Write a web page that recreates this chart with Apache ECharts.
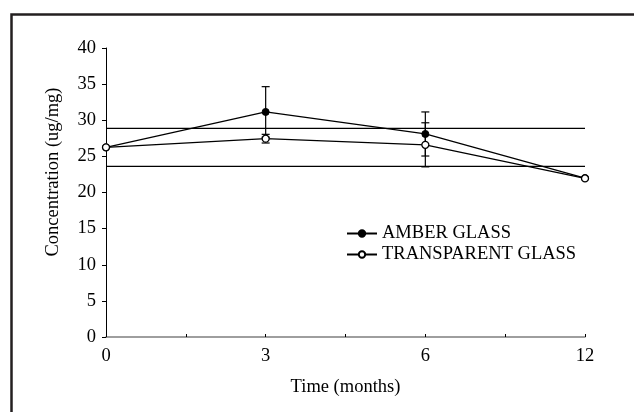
<!DOCTYPE html>
<html>
<head>
<meta charset="utf-8">
<script src="https://cdn.jsdelivr.net/npm/echarts@6/dist/echarts.min.js"></script>
<style>
html,body{margin:0;padding:0;background:#fff;}
#chart{width:634px;height:412px;}
</style>
</head>
<body>
<div id="chart"></div>
<script>
// ---- data ----
const timeLabels = ['0', '3', '6', '12'];           // x tick labels (months)
const amberValues = [26.25, 31.15, 28.1, 22.0];       // AMBER GLASS
const amberErrors = [0, 3.5, 3.05, 0];
const transparentValues = [26.25, 27.45, 26.6, 21.95]; // TRANSPARENT GLASS
const transparentErrors = [0, 0.6, 3.05, 0];
const upperLimit = 28.875;
const lowerLimit = 23.625;
const yTicks = [0, 5, 10, 15, 20, 25, 30, 35, 40];

const FONT = 'Liberation Serif';
const FS = 18.5;

const toPts = vals => vals.map((v, i) => [i, v]);
const toErr = (vals, errs) => vals.map((v, i) => [i, v, errs[i]]);
const limitLine = v => [[0, v], [timeLabels.length - 1, v]];

function errorBar(params, api) {
  const x = api.value(0), y = api.value(1), e = api.value(2);
  if (!e) return null;
  const top = api.coord([x, y + e]);
  const bot = api.coord([x, y - e]);
  const hw = 4;
  const st = { stroke: '#000', lineWidth: 1.2 };
  return {
    type: 'group',
    children: [
      { type: 'line', shape: { x1: top[0], y1: top[1], x2: bot[0], y2: bot[1] }, style: st },
      { type: 'line', shape: { x1: top[0] - hw, y1: top[1], x2: top[0] + hw, y2: top[1] }, style: st },
      { type: 'line', shape: { x1: bot[0] - hw, y1: bot[1], x2: bot[0] + hw, y2: bot[1] }, style: st }
    ]
  };
}

const chart = echarts.init(document.getElementById('chart'), null, { renderer: 'canvas' });
chart.setOption({
  animation: false,
  backgroundColor: '#fff',
  textStyle: { fontFamily: FONT, color: '#000' },
  graphic: [{
    type: 'rect',
    left: 9, top: 12,
    shape: { x: 0, y: 0, width: 700, height: 500 },
    style: { fill: 'none', stroke: '#231f20', lineWidth: 2.5 },
    silent: true
  }, {
    type: 'text',
    x: 53, y: 172, rotation: Math.PI / 2,
    style: {
      text: 'Concentration (ug/mg)', fontFamily: FONT, fontSize: FS, fill: '#000',
      align: 'center', verticalAlign: 'middle'
    },
    silent: true
  }],
  grid: { left: 106, right: 49, top: 48, bottom: 75, containLabel: false },
  xAxis: {
    type: 'value',
    min: 0, max: timeLabels.length - 1, interval: 0.5,
    name: 'Time (months)', nameLocation: 'middle', nameGap: 41,
    nameTextStyle: { fontFamily: FONT, fontSize: FS, color: '#000' },
    axisLine: { show: true, lineStyle: { color: '#7f7f7f', width: 1.5 } },
    axisTick: { show: true, inside: true, length: 3, lineStyle: { color: '#000' } },
    axisLabel: {
      fontFamily: FONT, fontSize: FS, color: '#000', margin: 10,
      formatter: v => Number.isInteger(v) ? timeLabels[v] : ''
    },
    splitLine: { show: false }
  },
  yAxis: {
    type: 'value',
    min: yTicks[0], max: yTicks[yTicks.length - 1], interval: yTicks[1] - yTicks[0],
    axisLine: { show: true, lineStyle: { color: '#000', width: 1 } },
    axisTick: { show: true, length: 4, lineStyle: { color: '#000' } },
    axisLabel: { fontFamily: FONT, fontSize: FS, color: '#000', margin: 10 },
    splitLine: { show: false }
  },
  legend: {
    orient: 'vertical', left: 346, top: 224, itemGap: 2, padding: 0,
    itemWidth: 30, itemHeight: 8,
    textStyle: { fontFamily: FONT, fontSize: FS, color: '#000' },
    data: ['AMBER GLASS', 'TRANSPARENT GLASS']
  },
  series: [
    { name: 'upper', type: 'line', data: limitLine(upperLimit), symbol: 'none',
      lineStyle: { color: '#000', width: 1.3 }, z: 1, silent: true },
    { name: 'lower', type: 'line', data: limitLine(lowerLimit), symbol: 'none',
      lineStyle: { color: '#000', width: 1.3 }, z: 1, silent: true },
    { name: 'amberErr', type: 'custom', renderItem: errorBar,
      data: toErr(amberValues, amberErrors), z: 2 },
    { name: 'transErr', type: 'custom', renderItem: errorBar,
      data: toErr(transparentValues, transparentErrors), z: 2 },
    { name: 'AMBER GLASS', type: 'line', data: toPts(amberValues),
      symbol: 'circle', symbolSize: 7,
      lineStyle: { color: '#000', width: 1.3 },
      itemStyle: { color: '#000', borderColor: '#000', borderWidth: 1 }, z: 3 },
    { name: 'TRANSPARENT GLASS', type: 'line', data: toPts(transparentValues),
      symbol: 'circle', symbolSize: 7,
      lineStyle: { color: '#000', width: 1.3 },
      itemStyle: { color: '#fff', borderColor: '#000', borderWidth: 1.3 }, z: 4 }
  ]
});
</script>
</body>
</html>
